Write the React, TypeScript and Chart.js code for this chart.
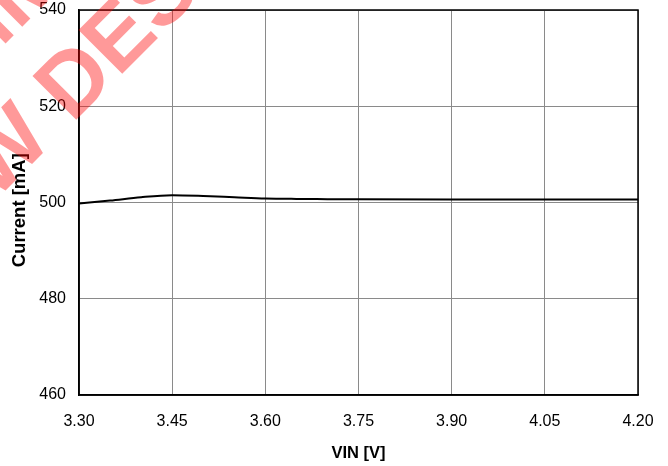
import React, { useEffect, useRef } from "react";
import { Chart, registerables } from "chart.js";

Chart.register(...registerables);

const vin = [3.30, 3.35, 3.40, 3.45, 3.50, 3.55, 3.60, 3.65, 3.70, 3.75, 3.90, 4.05, 4.20];
const current = [499.8, 500.4, 501.1, 501.5, 501.35, 501.1, 500.85, 500.75, 500.7, 500.65, 500.6, 500.6, 500.6];

const xTicks = [3.30, 3.45, 3.60, 3.75, 3.90, 4.05, 4.20];
const yTicks = [460, 480, 500, 520, 540];

const xTitle = "VIN [V]";
const yTitle = "Current [mA]   ";
const watermarkLines = ["NOT RECOMMENDED FOR", "NEW DESIGN"];

const FONT = '"Liberation Sans", Arial, sans-serif';

const framePlugin = {
  id: "frame",
  afterDatasetsDraw(chart: any) {
    const { ctx, chartArea } = chart;
    ctx.save();
    ctx.strokeStyle = "#000";
    ctx.lineWidth = 1.5;
    ctx.strokeRect(chartArea.left, chartArea.top, chartArea.right - chartArea.left, chartArea.bottom - chartArea.top);
    ctx.restore();
  },
};

const watermarkPlugin = {
  id: "watermark",
  afterDraw(chart: any) {
    const { ctx } = chart;
    ctx.save();
    ctx.fillStyle = "rgba(255,0,0,0.4)";
    ctx.font = `bold 90px ${FONT}`;
    ctx.textBaseline = "alphabetic";
    ctx.translate(77, 119);
    ctx.rotate(-Math.PI / 4);
    const pre = ctx.measureText("NEW ").width + 7;
    const w2 = ctx.measureText(watermarkLines[1]).width;
    const cx = -pre + w2 / 2;
    ctx.textAlign = "center";
    ctx.fillText(watermarkLines[1], cx, 0);
    ctx.fillText(watermarkLines[0], cx, -104);
    ctx.restore();
  },
};

export default function App() {
  const ref = useRef<HTMLCanvasElement | null>(null);
  useEffect(() => {
    if (!ref.current) return;
    const chart = new Chart(ref.current, {
      type: "line",
      data: {
        datasets: [
          {
            data: vin.map((v, i) => ({ x: v, y: current[i] })),
            borderColor: "#000",
            borderWidth: 2,
            pointRadius: 0,
            cubicInterpolationMode: "monotone",
            fill: false,
          },
        ],
      },
      options: {
        animation: false,
        responsive: true,
        maintainAspectRatio: false,
        layout: { padding: { top: 10, right: 30, left: 0, bottom: 0 } },
        plugins: { legend: { display: false }, tooltip: { enabled: false } },
        scales: {
          x: {
            type: "linear",
            min: 3.3,
            max: 4.2,
            afterBuildTicks(scale: any) {
              scale.ticks = xTicks.map((v) => ({ value: v }));
            },
            afterFit(scale: any) {
              scale.height = 71;
              scale.paddingLeft = 0;
              scale.paddingRight = 0;
            },
            ticks: {
              padding: 17,
              color: "#000",
              font: { family: FONT, size: 16 },
              maxRotation: 0,
              callback: (v: any) => Number(v).toFixed(2),
            },
            grid: { color: "#8a8a8a", lineWidth: 1, drawTicks: false },
            border: { color: "#000", width: 1.5 },
            title: {
              display: true,
              text: xTitle,
              color: "#000",
              font: { family: FONT, size: 16.5, weight: "bold" },
              padding: { top: 0, bottom: 3 },
            },
          },
          y: {
            min: 460,
            max: 540,
            afterBuildTicks(scale: any) {
              scale.ticks = yTicks.map((v) => ({ value: v }));
            },
            afterFit(scale: any) {
              scale.width = 79;
              scale.paddingTop = 0;
              scale.paddingBottom = 0;
            },
            ticks: {
              padding: 13,
              color: "#000",
              font: { family: FONT, size: 16 },
            },
            grid: { color: "#8a8a8a", lineWidth: 1, drawTicks: false },
            border: { color: "#000", width: 1.5 },
            title: {
              display: true,
              text: yTitle,
              color: "#000",
              font: { family: FONT, size: 18.5, weight: "bold" },
              padding: { top: 9, bottom: 0 },
            },
          },
        },
      },
      plugins: [framePlugin, watermarkPlugin],
    } as any);
    return () => chart.destroy();
  }, []);
  return (
    <div style={{ position: "fixed", left: 0, top: 0, width: 668, height: 466, background: "#fff" }}>
      <canvas ref={ref} />
    </div>
  );
}
